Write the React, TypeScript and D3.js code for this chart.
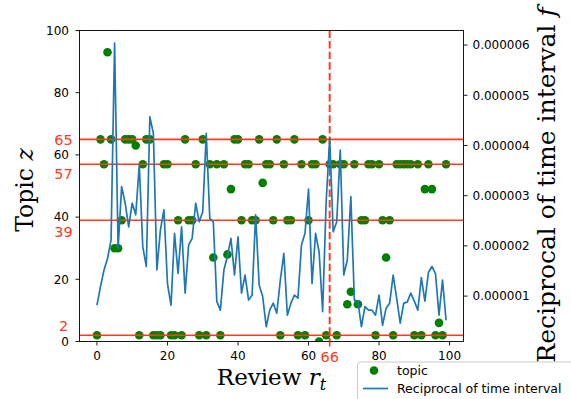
import React from "react";
import * as d3 from "d3";

// ---- data ----
const reviewIndex: number[] = Array.from({ length: 100 }, (_, i) => i);

const topics: number[] = [
  2, 65, 57, 93, 65, 30, 30, 39, 65, 65,
  65, 63, 2, 57, 65, 65, 2, 2, 2, 57,
  57, 2, 2, 39, 2, 65, 39, 39, 57, 2,
  65, 2, 57, 27, 57, 2, 57, 28, 49, 65,
  65, 39, 57, 57, 39, 39, 65, 51, 57, 57,
  39, 65, 2, 57, 39, 39, 65, 2, 57, 2,
  39, 57, 57, 0, 65, 2, 57, 57, 2, 57,
  57, 12, 16, 57, 12, 39, 39, 57, 57, 2,
  57, 39, 27, 39, 2, 57, 57, 57, 57, 57,
  2, 57, 2, 49, 57, 49, 2, 6, 2, 57,
];

// reciprocal of time interval, in units of 1e-6
const reciprocalE6: number[] = [
  0.82, 1.19, 1.52, 1.75, 2.12, 6.04, 1.95, 3.18, 2.85, 2.38,
  2.85, 2.62, 3.61, 1.98, 1.59, 4.57, 4.24, 1.52, 2.32, 2.72,
  1.25, 0.82, 2.25, 1.45, 2.38, 1.06, 2.02, 2.15, 2.85, 2.48,
  2.68, 4.24, 2.55, 2.48, 0.89, 0.72, 1.52, 1.79, 2.15, 1.42,
  2.18, 1.06, 1.42, 0.92, 1.02, 2.62, 1.22, 0.99, 0.39, 0.72,
  0.86, 0.66, 1.32, 1.85, 0.62, 0.86, 1.02, 0.96, 2.02, 2.25,
  3.13, 1.25, 2.25, 1.88, 0.69, 2.88, 4.14, 2.28, 2.48, 3.91,
  1.42, 1.72, 2.98, 0.92, 0.89, 0.39, 0.79, 0.72, 0.72, 0.62,
  1.02, 0.42, 0.76, 0.86, 1.42, 0.96, 0.46, 0.86, 0.88, 1.06,
  0.90, 0.72, 1.37, 0.90, 1.47, 1.59, 1.45, 0.62, 1.32, 0.52,
];

const leftTicks: number[] = [0, 20, 40, 60, 80, 100];
const bottomTicks: number[] = [0, 20, 40, 60, 80, 100];
const rightTicksE6: number[] = [1, 2, 3, 4, 5, 6];
const topicLines: number[] = [65, 57, 39, 2];
const markedReview: number = 66;
const legendLabels: string[] = ["topic", "Reciprocal of time interval"];

export default function App() {
  const W = 571, H = 399;
  const L = 79.5, R = 463.5, T = 30.5, B = 341.5;
  const RED = "#ff3a1e";
  const GREEN = "#008000";
  const BLUE = "#1f77b4";
  const sans = "'DejaVu Sans', sans-serif";
  const serif = "'DejaVu Serif', serif";

  const x = d3.scaleLinear().domain([-4.95, 103.95]).range([L, R]);
  const yL = d3.scaleLinear().domain([0, 100]).range([B, T]);
  const yR = d3.scaleLinear().domain([0.096e-6, 6.29e-6]).range([B, T]);

  const line = d3
    .line<number>()
    .x((_, i) => x(reviewIndex[i]))
    .y((d) => yR(d * 1e-6));

  // red label nudges (in px) relative to each line
  const redLabelDy: Record<number, number> = { 65: 5.5, 57: 15, 39: 17, 2: -4.5 };

  return (
    <svg
      width={W}
      height={H}
      style={{ position: "absolute", left: 0, top: 0, background: "#fff" }}
    >
      <defs>
        <clipPath id="plotclip">
          <rect x={L} y={T} width={R - L} height={B - T} />
        </clipPath>
      </defs>
      <rect x={0} y={0} width={W} height={H} fill="#fff" />

      <g clipPath="url(#plotclip)">
        {topics.map((t, i) => (
          <circle key={i} cx={x(reviewIndex[i])} cy={yL(t)} r={4.3} fill={GREEN} />
        ))}
        {topicLines.map((v) => (
          <line key={v} x1={L} x2={R} y1={yL(v)} y2={yL(v)} stroke={RED} strokeWidth={1.6} />
        ))}
        <line
          x1={x(markedReview)}
          x2={x(markedReview)}
          y1={T}
          y2={B}
          stroke={RED}
          strokeWidth={2}
          strokeDasharray="7.4 3.2"
        />
        <path d={line(reciprocalE6) || ""} fill="none" stroke={BLUE} strokeWidth={1.7} strokeLinejoin="round" />
      </g>

      {/* frame */}
      <rect x={L} y={T} width={R - L} height={B - T} fill="none" stroke="#000" strokeWidth={0.9} />

      {/* left axis */}
      {leftTicks.map((v) => (
        <g key={"l" + v}>
          <line x1={L - 4} x2={L} y1={yL(v)} y2={yL(v)} stroke="#000" strokeWidth={0.9} />
          <text x={L - 10.5} y={yL(v) + 4.3} textAnchor="end" fontFamily={sans} fontSize={12} fill="#000">
            {v}
          </text>
        </g>
      ))}
      {topicLines.map((v) => (
        <text key={"rl" + v} x={63.5} y={yL(v) + redLabelDy[v]} textAnchor="middle" fontFamily={sans} fontSize={14.5} fill={RED}>
          {v}
        </text>
      ))}

      {/* bottom axis */}
      {bottomTicks.map((v) => (
        <g key={"b" + v}>
          <line x1={x(v)} x2={x(v)} y1={B} y2={B + 4} stroke="#000" strokeWidth={0.9} />
          <text x={x(v)} y={B + 18.5} textAnchor="middle" fontFamily={sans} fontSize={12} fill="#000">
            {v}
          </text>
        </g>
      ))}
      <line x1={x(markedReview)} x2={x(markedReview)} y1={B} y2={B + 5} stroke={RED} strokeWidth={1.6} />
      <text x={x(markedReview)} y={B + 20.5} textAnchor="middle" fontFamily={sans} fontSize={14.5} fill={RED}>
        {markedReview}
      </text>

      {/* right axis */}
      {rightTicksE6.map((v) => (
        <g key={"r" + v}>
          <line x1={R} x2={R + 4} y1={yR(v * 1e-6)} y2={yR(v * 1e-6)} stroke="#000" strokeWidth={0.9} />
          <text x={R + 9} y={yR(v * 1e-6) + 4.3} fontFamily={sans} fontSize={12} fill="#000">
            {(v * 1e-6).toFixed(6)}
          </text>
        </g>
      ))}

      {/* axis labels */}
      <text transform={`translate(33,190) rotate(-90)`} textAnchor="middle" fontFamily={serif} fontSize={23.5} fill="#000">
        Topic <tspan fontStyle="italic">z</tspan>
      </text>
      <text x={(L + R) / 2} y={385} textAnchor="middle" fontFamily={serif} fontSize={23} fill="#000">
        Review <tspan fontStyle="italic">r</tspan>
        <tspan fontStyle="italic" fontSize={16} dy={5}>t</tspan>
      </text>
      <text transform={`translate(555,185) rotate(-90)`} textAnchor="middle" fontFamily={serif} fontSize={25} fill="#000">
        Reciprocal of time interval <tspan fontStyle="italic">f</tspan>
      </text>

      {/* legend */}
      <g>
        <rect x={357.5} y={362} width={240} height={60} rx={3} fill="#fff" fillOpacity={0.8} stroke="#cccccc" strokeWidth={1} />
        <circle cx={374} cy={370.5} r={4.3} fill={GREEN} />
        <text x={397} y={375} fontFamily={sans} fontSize={12.5} fill="#000">
          {legendLabels[0]}
        </text>
        <line x1={363} x2={388} y1={388.5} y2={388.5} stroke={BLUE} strokeWidth={1.7} />
        <text x={397} y={393} fontFamily={sans} fontSize={12.5} fill="#000">
          {legendLabels[1]}
        </text>
      </g>
    </svg>
  );
}
